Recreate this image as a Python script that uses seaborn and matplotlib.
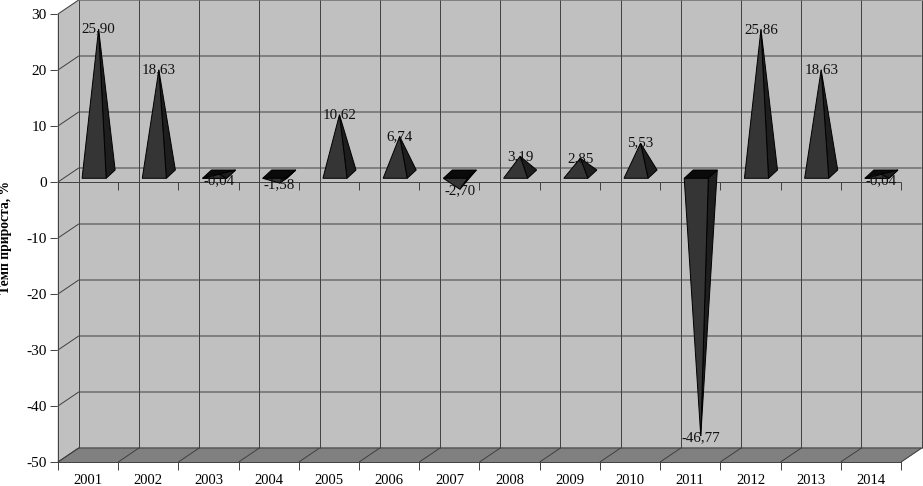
import matplotlib
matplotlib.use("Agg")
import matplotlib.pyplot as plt
import numpy as np
import pandas as pd
import seaborn as sns
from matplotlib.patches import Polygon
from matplotlib.ticker import FixedLocator

years = ["2001", "2002", "2003", "2004", "2005", "2006", "2007", "2008", "2009", "2010", "2011", "2012", "2013", "2014"]
values = [25.90, 18.63, -0.04, -1.58, 10.62, 6.74, -2.70, 3.19, 2.85, 5.53, -46.77, 25.86, 18.63, -0.04]
y_ticks = [30, 20, 10, 0, -10, -20, -30, -40, -50]
y_label = "Темп прироста, %"

sns.set_theme(style="white")
plt.rcParams["font.family"] = ["Liberation Serif", "DejaVu Serif"]

W, H = 923, 486
fig = plt.figure(figsize=(W / 100, H / 100), dpi=100, facecolor="white")
ax = fig.add_axes([58 / W, 1 - 462 / H, 843 / W, 448 / H])
ax.patch.set_visible(False)

df = pd.DataFrame({"year": years, "value": values})
sns.barplot(data=df, x="year", y="value", color="#333333", width=0.4, errorbar=None, ax=ax, zorder=6)
ax.set_xlim(-0.5, 13.5)
ax.set_ylim(-50, 30)

GRID = "#404040"
WALL = "#c0c0c0"
FLOOR = "#808080"
LW = 0.7
# 3D depth of the box, data units
DX, DY = 20.7 / 60.2, 14 / 5.6
x0, x1 = -0.5, 13.5
y0, y1 = -50, 30
bounds = np.arange(x0, x1 + 0.5)


def poly(pts, fc, ec=None, z=1, lw=LW):
    ax.add_patch(Polygon(pts, closed=True, facecolor=fc, edgecolor=ec if ec else fc,
                         linewidth=lw, zorder=z, clip_on=False))


def line(xs, ys, z=3, color=GRID, lw=LW):
    ax.plot(xs, ys, color=color, lw=lw, zorder=z, clip_on=False, solid_capstyle="butt")


# walls and floor
poly([(x0 + DX, y0 + DY), (x1 + DX, y0 + DY), (x1 + DX, y1 + DY), (x0 + DX, y1 + DY)], WALL, z=1)
poly([(x0, y0), (x0 + DX, y0 + DY), (x0 + DX, y1 + DY), (x0, y1)], WALL, z=1)
poly([(x0, y0), (x1, y0), (x1 + DX, y0 + DY), (x0 + DX, y0 + DY)], FLOOR, z=2)

# grid on the back and side walls
for v in y_ticks:
    line([x0, x0 + DX, x1 + DX], [v, v + DY, v + DY])
for b in bounds:
    line([b + DX, b + DX], [y0 + DY, y1 + DY])
    line([b, b + DX], [y0, y0 + DY])
    line([b, b], [-1.4, 0], z=4)
line([x0, x1], [0, 0], z=4)

# axes
for s in ["top", "right"]:
    ax.spines[s].set_visible(False)
for s in ["left", "bottom"]:
    ax.spines[s].set_color(GRID)
    ax.spines[s].set_linewidth(LW)
    ax.spines[s].set_zorder(5)
ax.set_yticks(y_ticks)
ax.set_yticklabels([str(v) for v in y_ticks])
ax.tick_params(axis="y", left=True, length=6, width=LW, color=GRID, pad=2, labelsize=11, labelcolor="black")
ax.tick_params(axis="x", which="major", bottom=False, length=0, pad=8.5, labelsize=10.5, labelcolor="black")
ax.xaxis.set_minor_locator(FixedLocator(bounds))
ax.tick_params(axis="x", which="minor", bottom=True, length=6, width=LW, color=GRID)
ax.set_xlabel("")
ax.set_ylabel("")
fig.text(6 / W, 1 - 237 / H, y_label, rotation=90, ha="center", va="center",
         fontsize=9.8, fontweight="bold", color="black")

# pyramids, built from the seaborn bars
FRONT = (6 / 60.2, 3.7 / 5.6)
BACK = (15 / 60.2, 12 / 5.6)
for patch, v in zip(list(ax.patches), values):
    left, right = patch.get_x(), patch.get_x() + patch.get_width()
    patch.set_visible(False)
    fl = (left + FRONT[0], FRONT[1])
    fr = (right + FRONT[0], FRONT[1])
    bl = (left + BACK[0], BACK[1])
    br = (right + BACK[0], BACK[1])
    mid = (left + right) / 2 + (FRONT[0] + BACK[0]) / 2
    apex = (mid, (FRONT[1] + BACK[1]) / 2 + v)
    label = f"{v:.2f}".replace(".", ",")
    label_y = apex[1] if v > 0 else min(apex[1] - 0.3, 0.3)
    ax.text(apex[0], label_y, label, ha="center", va="center",
            fontsize=10.8, color="#101010", zorder=7, clip_on=False)
    if v < 0:
        poly([fl, fr, br, bl], "#0a0a0a", "#000000", z=6)
    poly([fr, br, apex], "#1e1e1e", "#000000", z=6)
    poly([fl, fr, apex], "#353535", "#000000", z=6.5)

fig.savefig("out.png", dpi=100, facecolor="white")
